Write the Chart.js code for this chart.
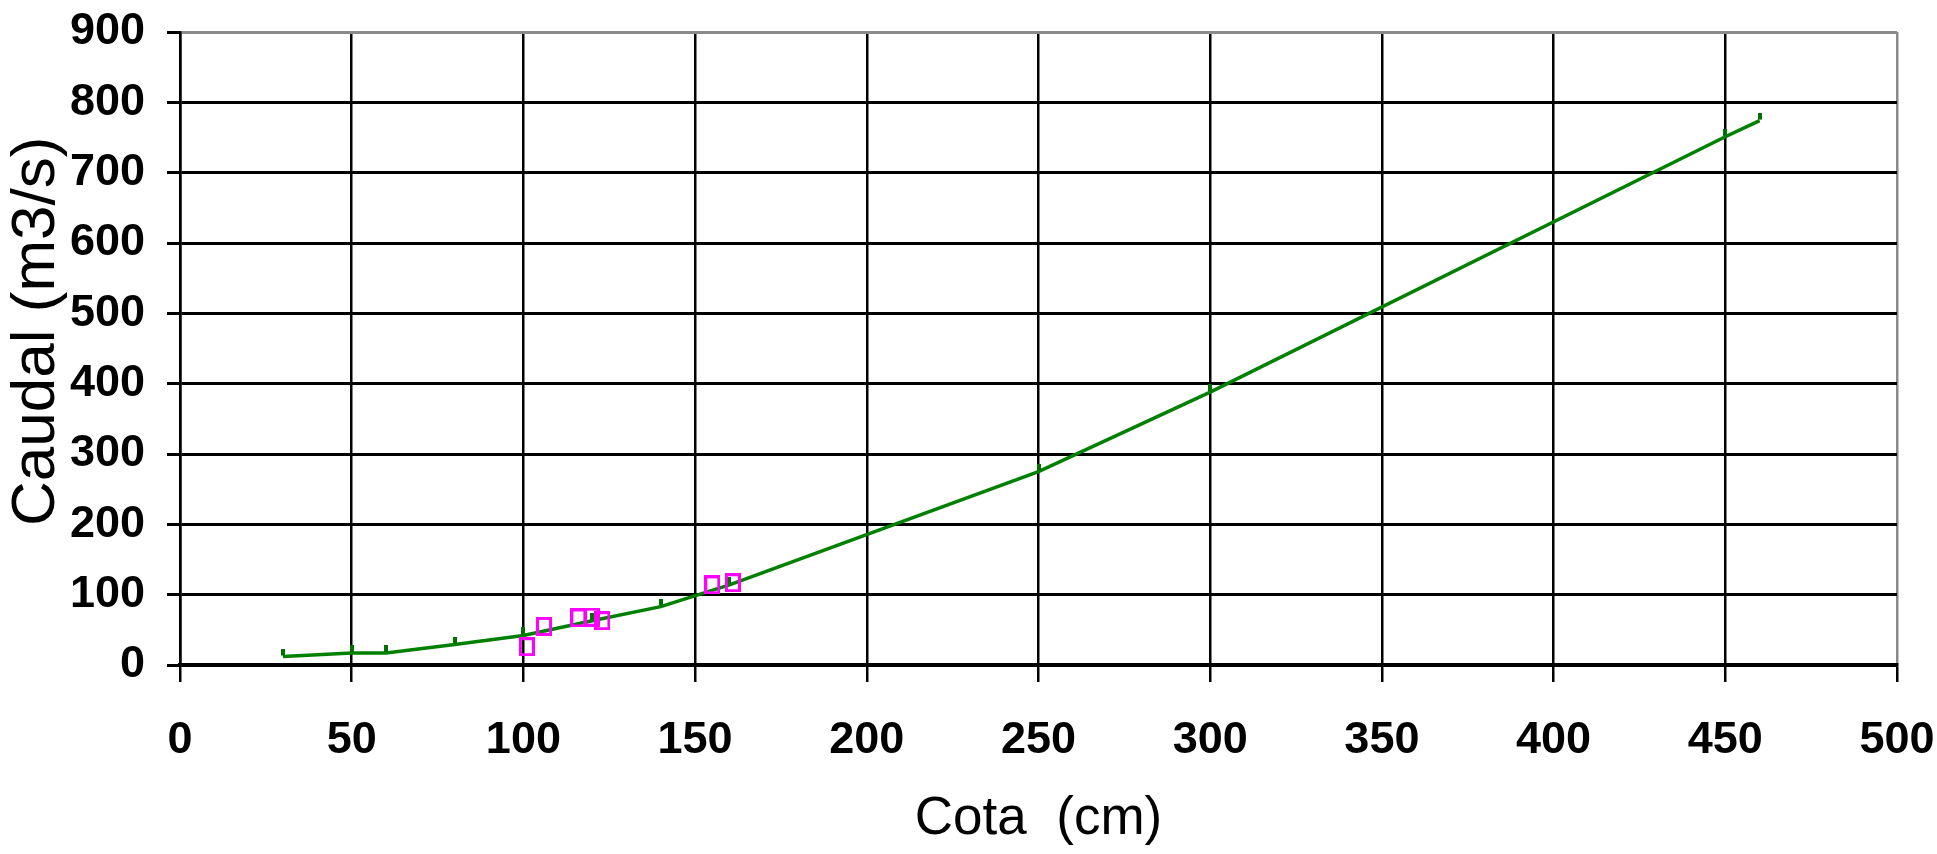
<!DOCTYPE html>
<html>
<head>
<meta charset="utf-8">
<script src="https://cdn.jsdelivr.net/npm/chart.js@4/dist/chart.umd.min.js"></script>
<style>
  html, body { margin: 0; padding: 0; background: #ffffff; }
  canvas { display: block; }
</style>
</head>
<body>
<canvas id="c" width="1937" height="854"></canvas>
<script>
// ---- data ----
const cotaCurva   = [30, 50, 60, 80, 100, 120, 140, 160, 250, 300, 450, 460];
const caudalCurva = [12, 17, 17, 29, 42, 63, 83, 114, 275, 388, 751, 774];
const cotaAforos   = [101, 106, 116, 120, 123, 155, 161];
const caudalAforos = [26, 55, 67, 68, 63, 114, 117];
const xTicks = [0, 50, 100, 150, 200, 250, 300, 350, 400, 450, 500];
const yTicks = [0, 100, 200, 300, 400, 500, 600, 700, 800, 900];
const xTitle = 'Cota  (cm)';
const yTitle = '  Caudal (m3/s)';

// ---- marker glyphs ----
function greenDash() {
  const c = document.createElement('canvas');
  c.width = 4; c.height = 16;
  const g = c.getContext('2d');
  g.fillStyle = '#007000';
  g.fillRect(0, 0, 4, 7);
  return c;
}
function pinkBox() {
  const c = document.createElement('canvas');
  c.width = 16; c.height = 19;
  const g = c.getContext('2d');
  g.strokeStyle = '#FF00FF';
  g.lineWidth = 3;
  g.strokeRect(1.5, 1.5, 13, 16);
  return c;
}

const toXY = (xs, ys) => xs.map((x, i) => ({ x: x, y: ys[i] }));

const tickFont = { family: '"Liberation Sans", Arial, sans-serif', size: 45, weight: 'bold' };

new Chart(document.getElementById('c'), {
  type: 'scatter',
  data: {
    datasets: [
      {
        label: 'Aforos',
        data: toXY(cotaAforos, caudalAforos),
        pointStyle: pinkBox(),
        showLine: false,
        order: 1
      },
      {
        label: 'Curva',
        data: toXY(cotaCurva, caudalCurva),
        showLine: true,
        borderColor: '#008000',
        borderWidth: 3.5,
        tension: 0,
        pointStyle: greenDash(),
        order: 2
      }
    ]
  },
  options: {
    responsive: false,
    animation: false,
    events: [],
    layout: { padding: { top: 32, right: 40, left: 0, bottom: 0 } },
    plugins: { legend: { display: false }, tooltip: { enabled: false } },
    scales: {
      x: {
        type: 'linear',
        min: 0, max: 500,
        afterBuildTicks: s => { s.ticks = xTicks.map(v => ({ value: v })); },
        afterFit: s => {
          s.height = 189;
          s.paddingTop = 0; s.paddingBottom = 0;
          s.paddingLeft = 0; s.paddingRight = 0;
        },
        ticks: { color: '#000', font: tickFont, padding: 32, maxRotation: 0, autoSkip: false },
        grid: {
          color: ctx => (ctx.tick && ctx.tick.value === 500) ? '#8a8a8a' : '#000',
          lineWidth: 2.5,
          tickColor: '#000',
          tickLength: 17,
          drawTicks: true
        },
        border: { color: '#000', width: 3.5 },
        title: {
          display: true,
          text: xTitle,
          color: '#000',
          font: { family: '"Liberation Sans", Arial, sans-serif', size: 53, lineHeight: 1 },
          padding: { top: 0, bottom: 8 }
        }
      },
      y: {
        type: 'linear',
        min: 0, max: 900,
        afterBuildTicks: s => { s.ticks = yTicks.map(v => ({ value: v })); },
        afterFit: s => { s.width = 180; s.paddingTop = 0; s.paddingBottom = 0; },
        ticks: { color: '#000', font: tickFont, padding: 22, autoSkip: false },
        grid: {
          color: ctx => (ctx.tick && ctx.tick.value === 900) ? '#8a8a8a' : '#000',
          lineWidth: 3,
          tickColor: '#000',
          tickLength: 13,
          drawTicks: true
        },
        border: { color: '#000', width: 2.5 },
        title: {
          display: true,
          text: yTitle,
          color: '#000',
          font: { family: '"Liberation Sans", Arial, sans-serif', size: 62, lineHeight: 1 },
          padding: { top: 6, bottom: 0 }
        }
      }
    }
  }
});
</script>
</body>
</html>
